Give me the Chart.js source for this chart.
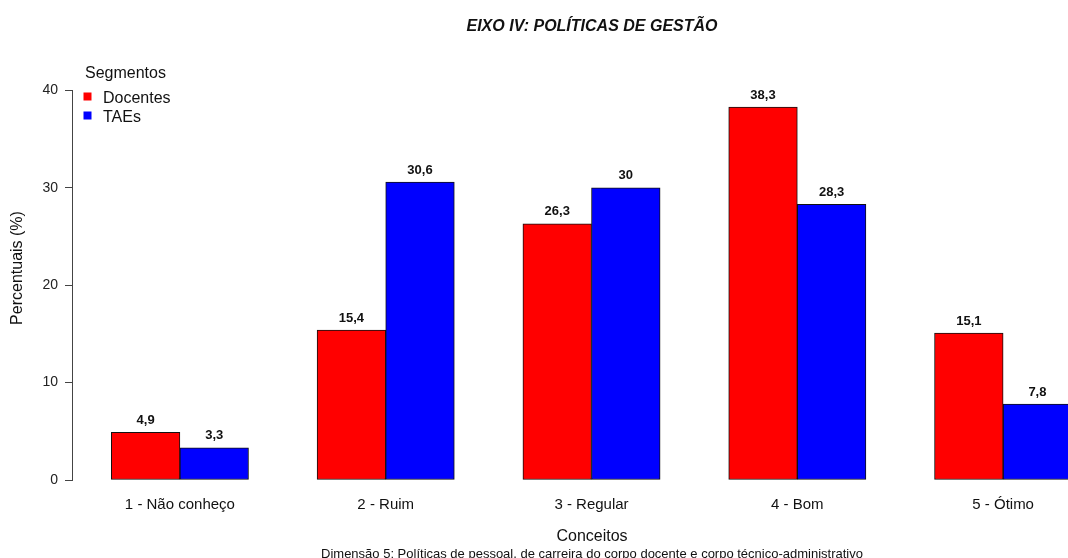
<!DOCTYPE html>
<html>
<head>
<meta charset="utf-8">
<script src="https://cdn.jsdelivr.net/npm/chart.js@4"></script>
<style>
    html, body { margin: 0; padding: 0; background: #fff; overflow: hidden; }
    #wrap { width: 1068px; height: 558px; overflow: hidden; }
</style>
</head>
<body>
<div id="wrap">
    <canvas id="eixo-chart" width="1112" height="558"></canvas>
</div>
<script>
// Data
const categories = ['1 - Não conheço', '2 - Ruim', '3 - Regular', '4 - Bom', '5 - Ótimo'];
const docentes = [4.9, 15.4, 26.3, 38.3, 15.1];
const taes = [3.3, 30.6, 30.0, 28.3, 7.8];
const yTicks = [0, 10, 20, 30, 40];

const FONT = "'Liberation Sans', Arial, sans-serif";

// Legend in the top-left corner and the y title, placed like R does
const legendPlugin = {
    id: 'cornerLegend',
    afterDraw(chart) {
        const ctx = chart.ctx;
        ctx.save();
        ctx.textBaseline = 'middle';
        ctx.textAlign = 'left';
        ctx.fillStyle = '#111';
        ctx.font = '16px ' + FONT;
        ctx.fillText('Segmentos', 85, 74);
        chart.data.datasets.forEach((ds, i) => {
            const y = 99 + i * 19;
            ctx.fillStyle = ds.backgroundColor;
            ctx.fillRect(83.5, y - 6.5, 8, 8);
            ctx.fillStyle = '#111';
            ctx.fillText(ds.label, 103, y);
        });

        // y axis title
        ctx.translate(18, 268);
        ctx.rotate(-Math.PI / 2);
        ctx.textAlign = 'center';
        ctx.fillText('Percentuais (%)', 0, 0);
        ctx.restore();
    }
};

// Value labels above each bar
const valueLabels = {
    id: 'valueLabels',
    afterDatasetsDraw(chart) {
        const ctx = chart.ctx;
        ctx.save();
        ctx.font = 'bold 13px ' + FONT;
        ctx.fillStyle = '#111';
        ctx.textAlign = 'center';
        ctx.textBaseline = 'middle';
        chart.data.datasets.forEach((ds, i) => {
            chart.getDatasetMeta(i).data.forEach((bar, j) => {
                const txt = String(ds.data[j].y).replace('.', ',');
                ctx.fillText(txt, bar.x, bar.y - 12);
            });
        });
        ctx.restore();
    }
};

const toPoints = (values) => values.map((v, i) => ({ x: i + 1, y: v }));

const chart = new Chart(document.getElementById('eixo-chart').getContext('2d'), {
    type: 'bar',
    data: {
        datasets: [{
            label: 'Docentes',
            data: toPoints(docentes),
            backgroundColor: '#FF0000',
            borderColor: '#111',
            borderWidth: 1,
            barThickness: 68.6,
            borderSkipped: false
        }, {
            label: 'TAEs',
            data: toPoints(taes),
            backgroundColor: '#0000FF',
            borderColor: '#111',
            borderWidth: 1,
            barThickness: 68.6,
            borderSkipped: false
        }]
    },
    options: {
        responsive: false,
        animation: false,
        layout: { padding: 0 },
        plugins: {
            legend: { display: false },
            tooltip: { enabled: false },
            title: {
                display: true,
                text: 'EIXO IV: POLÍTICAS DE GESTÃO',
                fullSize: false,
                color: '#111',
                font: { family: FONT, size: 16, weight: 'bold', style: 'italic', lineHeight: 1.2 },
                padding: { top: 17.4, bottom: 53.9 }
            },
            subtitle: {
                display: true,
                position: 'bottom',
                fullSize: false,
                text: 'Dimensão 5: Políticas de pessoal, de carreira do corpo docente e corpo técnico-administrativo',
                color: '#111',
                font: { family: FONT, size: 13, lineHeight: 1 },
                padding: { top: 0, bottom: -3 }
            }
        },
        scales: {
            x: {
                type: 'linear',
                offset: false,
                min: 0.4757,
                max: 5.529,
                afterFit: (scale) => { scale.height = 68; },
                grid: { display: false, drawTicks: false },
                border: { display: false },
                afterBuildTicks: (scale) => {
                    scale.ticks = categories.map((_, i) => ({ value: i + 1 }));
                },
                ticks: {
                    autoSkip: false,
                    maxRotation: 0,
                    padding: 16,
                    color: '#111',
                    font: { family: FONT, size: 15, lineHeight: 1.2 },
                    callback: (value) => categories[value - 1]
                },
                title: {
                    display: true,
                    text: 'Conceitos',
                    color: '#111',
                    font: { family: FONT, size: 16, lineHeight: 1.2 },
                    padding: { top: 0, bottom: 1.4 }
                }
            },
            y: {
                min: 0,
                max: 40,
                afterFit: (scale) => { scale.width = 72; },
                afterBuildTicks: (scale) => {
                    scale.ticks = yTicks.map(v => ({ value: v }));
                },
                border: { display: true, color: '#444', width: 1 },
                grid: {
                    display: true,
                    drawOnChartArea: false,
                    drawTicks: true,
                    tickLength: 7,
                    color: '#444'
                },
                ticks: {
                    padding: 7,
                    color: '#222',
                    font: { family: FONT, size: 14 }
                },
                title: { display: false }
            }
        }
    },
    plugins: [valueLabels, legendPlugin]
});
</script>
</body>
</html>
